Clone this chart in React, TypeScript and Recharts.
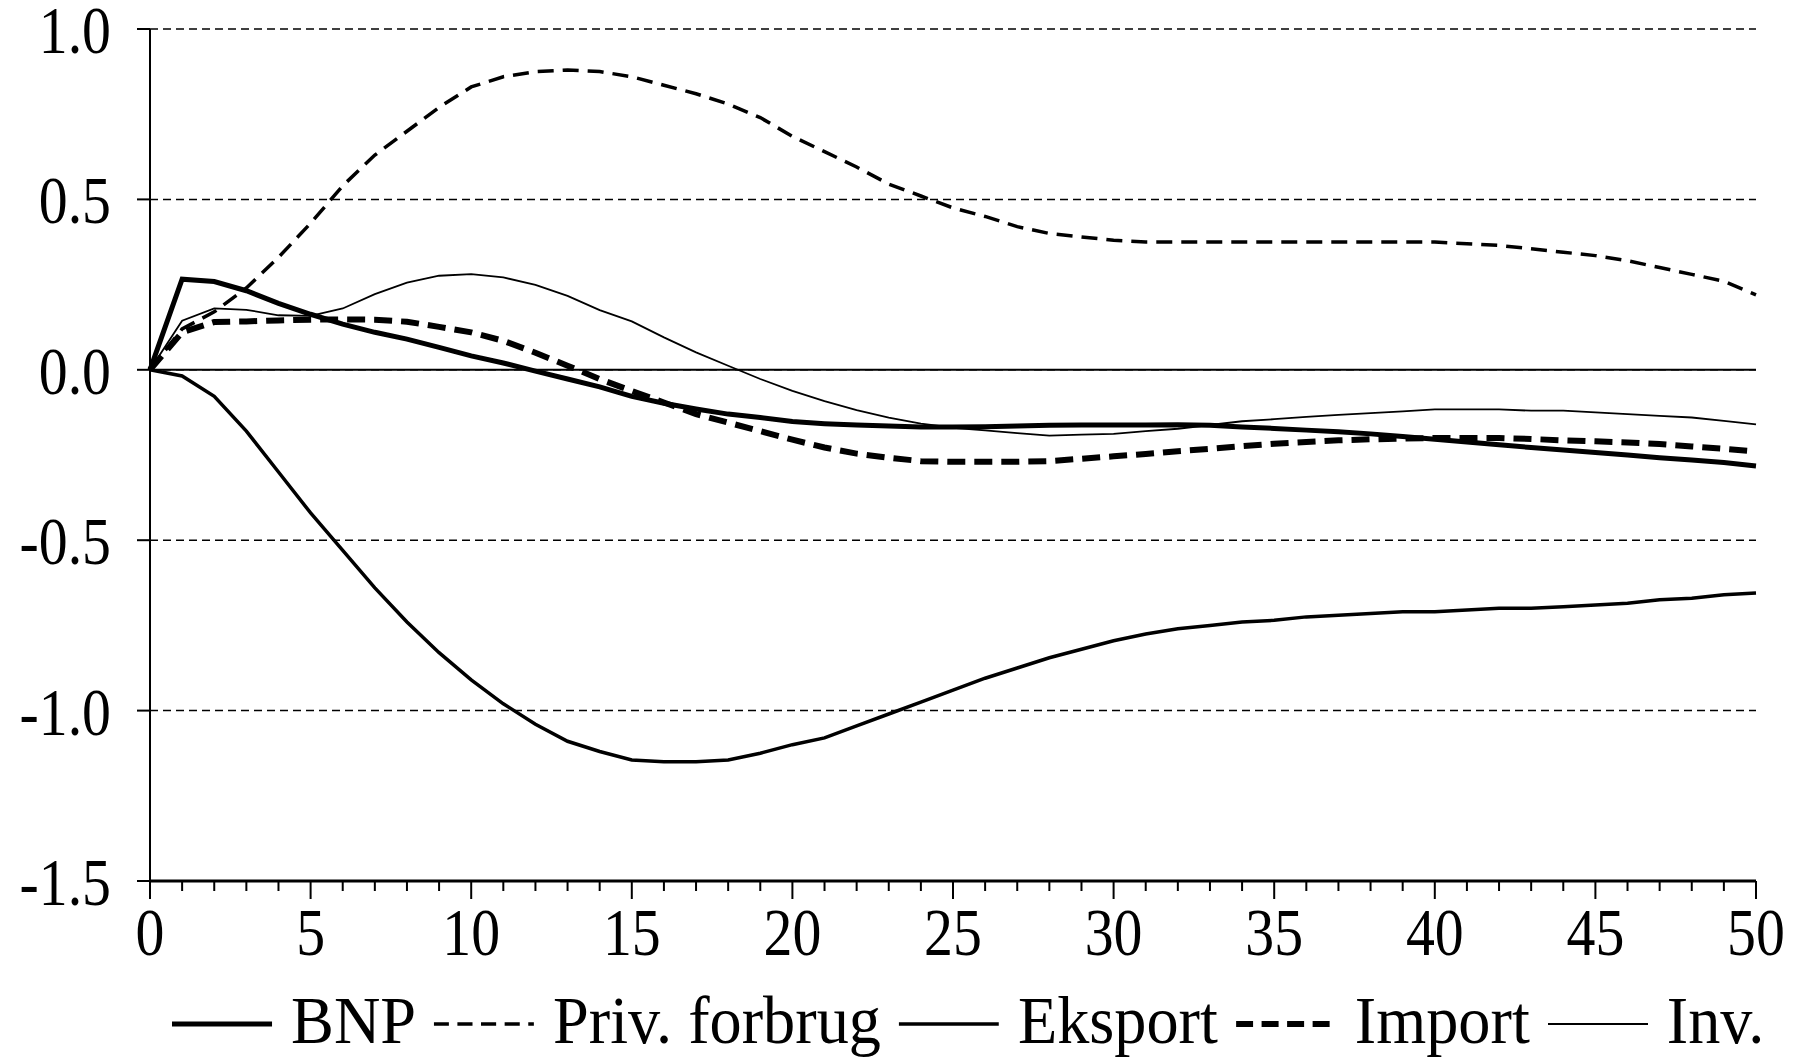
import { LineChart, Line, XAxis, YAxis, CartesianGrid, ReferenceLine, Legend } from "recharts";

const periods = [
  0, 1, 2, 3, 4, 5, 6, 7, 8, 9, 10, 11, 12, 13, 14, 15, 16, 17, 18, 19, 20, 21, 22, 23, 24, 25,
  26, 27, 28, 29, 30, 31, 32, 33, 34, 35, 36, 37, 38, 39, 40, 41, 42, 43, 44, 45, 46, 47, 48, 49, 50,
];

const bnp = [
  0, 0.266, 0.259, 0.232, 0.195, 0.163, 0.134, 0.11, 0.09, 0.066, 0.041, 0.02, -0.004, -0.027,
  -0.05, -0.078, -0.098, -0.115, -0.13, -0.14, -0.152, -0.158, -0.162, -0.165, -0.168, -0.168,
  -0.167, -0.165, -0.163, -0.162, -0.162, -0.162, -0.161, -0.163, -0.168, -0.172, -0.177, -0.182,
  -0.188, -0.196, -0.204, -0.212, -0.22, -0.228, -0.235, -0.243, -0.25, -0.258, -0.265, -0.272,
  -0.282,
];

const privForbrug = [
  0, 0.12, 0.17, 0.24, 0.33, 0.43, 0.54, 0.63, 0.7, 0.77, 0.83, 0.86, 0.875, 0.88, 0.875, 0.86,
  0.835, 0.81, 0.78, 0.74, 0.685, 0.64, 0.595, 0.545, 0.51, 0.475, 0.45, 0.42, 0.4, 0.39, 0.38,
  0.375, 0.375, 0.375, 0.375, 0.375, 0.375, 0.375, 0.375, 0.375, 0.375, 0.37, 0.365, 0.355, 0.345,
  0.335, 0.32, 0.3, 0.28, 0.26, 0.22,
];

const eksport = [
  0, -0.018, -0.078, -0.18, -0.3, -0.42, -0.53, -0.64, -0.74, -0.83, -0.91, -0.98, -1.04, -1.09,
  -1.12, -1.145, -1.15, -1.15, -1.145, -1.125, -1.1, -1.08, -1.045, -1.01, -0.975, -0.94, -0.905,
  -0.875, -0.845, -0.82, -0.795, -0.775, -0.76, -0.75, -0.74, -0.735, -0.725, -0.72, -0.715, -0.71,
  -0.71, -0.705, -0.7, -0.7, -0.695, -0.69, -0.685, -0.675, -0.67, -0.66, -0.655,
];

const importSeries = [
  0, 0.11, 0.14, 0.142, 0.145, 0.147, 0.148, 0.147, 0.141, 0.126, 0.11, 0.085, 0.05, 0.012, -0.027,
  -0.062, -0.096, -0.13, -0.155, -0.18, -0.205, -0.228, -0.246, -0.258, -0.268, -0.27, -0.27,
  -0.27, -0.268, -0.261, -0.254, -0.247, -0.239, -0.232, -0.224, -0.217, -0.212, -0.207, -0.204,
  -0.202, -0.2, -0.2, -0.2, -0.203, -0.207, -0.21, -0.213, -0.218, -0.225, -0.232, -0.24,
];

const inv = [
  0, 0.144, 0.18, 0.176, 0.16, 0.158, 0.18, 0.222, 0.256, 0.276, 0.281, 0.271, 0.249, 0.217, 0.175,
  0.142, 0.095, 0.051, 0.012, -0.027, -0.062, -0.092, -0.118, -0.14, -0.158, -0.17, -0.178, -0.186,
  -0.193, -0.19, -0.188, -0.18, -0.173, -0.162, -0.151, -0.145, -0.138, -0.132, -0.127, -0.122,
  -0.116, -0.116, -0.116, -0.12, -0.12, -0.125, -0.13, -0.135, -0.14, -0.15, -0.16,
];

const yTicks = [-1.5, -1.0, -0.5, 0, 0.5, 1.0];

const data = periods.map((t, i) => ({
  t,
  bnp: bnp[i],
  priv: privForbrug[i],
  eksport: eksport[i],
  imp: importSeries[i],
  inv: inv[i],
}));

const FONT = "'Liberation Serif', 'Times New Roman', serif";

const legendItems = [
  { label: "BNP", width: 5, dash: undefined },
  { label: "Priv. forbrug", width: 3.5, dash: "16 9" },
  { label: "Eksport", width: 3.5, dash: undefined },
  { label: "Import", width: 6, dash: "18 9" },
  { label: "Inv.", width: 1.8, dash: undefined },
];

function YTick(props: any) {
  const { x, y, payload } = props;
  return (
    <g transform={`translate(${x},${y + 24}) scale(0.85,1)`}>
      <text x={0} y={0} textAnchor="end" fontSize={68} fontFamily={FONT} fill="#000">
        {payload.value.toFixed(1)}
      </text>
    </g>
  );
}

function XTick(props: any) {
  const { x, y, payload } = props;
  const major = payload.value % 5 === 0;
  return (
    <g>
      <line x1={x} y1={y} x2={x} y2={y + (major ? 18 : 10)} stroke="#000" strokeWidth={2} />
      {major && (
        <g transform={`translate(${x},${y + 74}) scale(0.85,1)`}>
          <text x={0} y={0} textAnchor="middle" fontSize={68} fontFamily={FONT} fill="#000">
            {payload.value}
          </text>
        </g>
      )}
    </g>
  );
}

function LegendContent() {
  return (
    <div style={{ height: 90, position: "relative" }}>
      <div
        style={{
          position: "absolute",
          left: 172,
          top: 0,
          display: "flex",
          alignItems: "center",
          height: 90,
          transform: "scaleX(0.945)",
          transformOrigin: "left center",
          whiteSpace: "nowrap",
          fontFamily: FONT,
          fontSize: 68,
          color: "#000",
        }}
      >
        {legendItems.map((item) => (
          <div key={item.label} style={{ display: "flex", alignItems: "center", marginRight: 19 }}>
            <svg width={106} height={20} style={{ marginRight: 20, position: "relative", top: 11 }}>
              <line
                x1={0}
                y1={10}
                x2={106}
                y2={10}
                stroke="#000"
                strokeWidth={item.width}
                strokeDasharray={item.dash}
              />
            </svg>
            <span style={{ lineHeight: "70px", position: "relative", top: 7 }}>{item.label}</span>
          </div>
        ))}
      </div>
    </div>
  );
}

export default function App() {
  return (
    <div style={{ width: 1794, height: 1058, background: "#fff" }}>
      <style>{"body{margin:0}"}</style>
      <LineChart
        width={1794}
        height={1058}
        data={data}
        margin={{ top: 29, right: 38, left: 0, bottom: 0 }}
      >
        <CartesianGrid
          horizontal
          vertical={false}
          stroke="#000"
          strokeWidth={1.5}
          strokeDasharray="8 5"
        />
        <XAxis
          dataKey="t"
          type="number"
          domain={[0, 50]}
          ticks={periods}
          interval={0}
          height={87}
          axisLine={{ stroke: "#000", strokeWidth: 3 }}
          tickLine={false}
          tickSize={0}
          tickMargin={0}
          tick={<XTick />}
        />
        <YAxis
          type="number"
          domain={[-1.5, 1]}
          ticks={yTicks}
          interval={0}
          width={150}
          axisLine={{ stroke: "#000", strokeWidth: 2 }}
          tickLine={{ stroke: "#000", strokeWidth: 2 }}
          tickSize={13}
          tickMargin={26}
          tick={<YTick />}
        />
        <ReferenceLine y={0} stroke="#000" strokeWidth={2} />
        <Legend verticalAlign="bottom" content={<LegendContent />} wrapperStyle={{ left: 0, width: 1794 }} />
        <Line
          dataKey="eksport"
          name="Eksport"
          stroke="#000"
          strokeWidth={3.5}
          dot={false}
          isAnimationActive={false}
        />
        <Line
          dataKey="inv"
          name="Inv."
          stroke="#000"
          strokeWidth={1.8}
          dot={false}
          isAnimationActive={false}
        />
        <Line
          dataKey="priv"
          name="Priv. forbrug"
          stroke="#000"
          strokeWidth={3.5}
          strokeDasharray="16 9"
          dot={false}
          isAnimationActive={false}
        />
        <Line
          dataKey="imp"
          name="Import"
          stroke="#000"
          strokeWidth={6}
          strokeDasharray="18 9"
          dot={false}
          isAnimationActive={false}
        />
        <Line
          dataKey="bnp"
          name="BNP"
          stroke="#000"
          strokeWidth={5}
          dot={false}
          isAnimationActive={false}
        />
      </LineChart>
    </div>
  );
}
